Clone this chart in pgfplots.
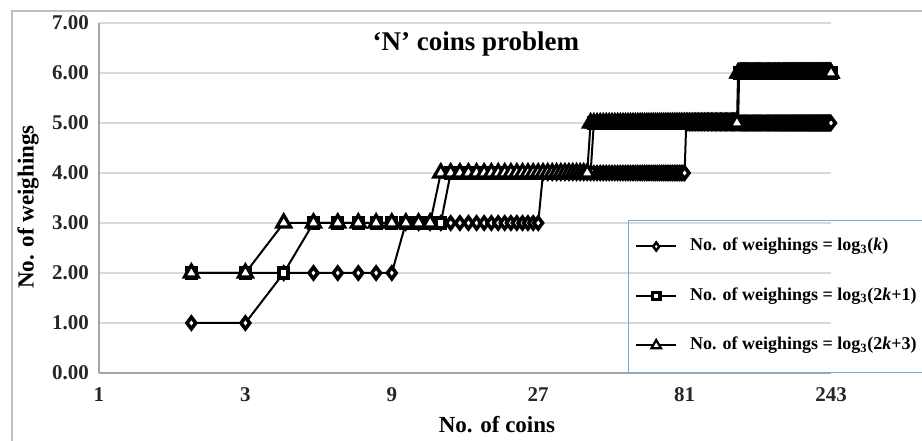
\documentclass[border=0pt]{standalone}
\usepackage{fontspec}
\setmainfont{Liberation Serif}
\usepackage{pgfplots}
\usepackage{pgfplotstable}
\pgfplotsset{compat=1.18}
\definecolor{gridc}{RGB}{217,217,217}
\definecolor{axc}{RGB}{166,166,166}
\definecolor{framec}{RGB}{191,191,191}
\definecolor{legc}{RGB}{120,170,220}

\pgfdeclareplotmark{tdiamond}{%
  \pgfsetlinewidth{0.62\pgfplotmarksize}%
  \pgfpathmoveto{\pgfqpoint{0pt}{\pgfplotmarksize}}%
  \pgfpathlineto{\pgfqpoint{0.75\pgfplotmarksize}{0pt}}%
  \pgfpathlineto{\pgfqpoint{0pt}{-\pgfplotmarksize}}%
  \pgfpathlineto{\pgfqpoint{-0.75\pgfplotmarksize}{0pt}}%
  \pgfpathclose\pgfusepathqfillstroke}
\pgfdeclareplotmark{tsquare}{%
  \pgfsetlinewidth{0.85\pgfplotmarksize}%
  \pgfpathrectangle{\pgfqpoint{-\pgfplotmarksize}{-\pgfplotmarksize}}{\pgfqpoint{2\pgfplotmarksize}{2\pgfplotmarksize}}%
  \pgfusepathqfillstroke}
\pgfdeclareplotmark{ttriangle}{%
  \pgfsetlinewidth{0.4\pgfplotmarksize}%
  \pgfpathmoveto{\pgfqpoint{0pt}{\pgfplotmarksize}}%
  \pgfpathlineto{\pgfqpoint{0.866\pgfplotmarksize}{-0.5\pgfplotmarksize}}%
  \pgfpathlineto{\pgfqpoint{-0.866\pgfplotmarksize}{-0.5\pgfplotmarksize}}%
  \pgfpathclose\pgfusepathqfillstroke}

\pgfplotstableread[row sep=\\]{
k d s t\\
2 1 2 2\\ 3 1 2 2\\ 4 2 2 3\\ 5 2 3 3\\ 6 2 3 3\\ 7 2 3 3\\ 8 2 3 3\\ 9 2 3 3\\
10 3 3 3\\ 11 3 3 3\\ 12 3 3 3\\ 13 3 3 4\\
14 3 4 4\\ 15 3 4 4\\ 16 3 4 4\\ 17 3 4 4\\ 18 3 4 4\\ 19 3 4 4\\ 20 3 4 4\\
21 3 4 4\\ 22 3 4 4\\ 23 3 4 4\\ 24 3 4 4\\ 25 3 4 4\\ 26 3 4 4\\ 27 3 4 4\\
28 4 4 4\\ 29 4 4 4\\ 30 4 4 4\\ 31 4 4 4\\ 32 4 4 4\\ 33 4 4 4\\ 34 4 4 4\\
35 4 4 4\\ 36 4 4 4\\ 37 4 4 4\\ 38 4 4 4\\ 39 4 4 4\\ 40 4 4 5\\
41 4 5 5\\ 42 4 5 5\\ 43 4 5 5\\ 44 4 5 5\\ 45 4 5 5\\ 46 4 5 5\\ 47 4 5 5\\ 48 4 5 5\\ 49 4 5 5\\ 50 4 5 5\\
51 4 5 5\\ 52 4 5 5\\ 53 4 5 5\\ 54 4 5 5\\ 55 4 5 5\\ 56 4 5 5\\ 57 4 5 5\\ 58 4 5 5\\ 59 4 5 5\\ 60 4 5 5\\
61 4 5 5\\ 62 4 5 5\\ 63 4 5 5\\ 64 4 5 5\\ 65 4 5 5\\ 66 4 5 5\\ 67 4 5 5\\ 68 4 5 5\\ 69 4 5 5\\ 70 4 5 5\\
71 4 5 5\\ 72 4 5 5\\ 73 4 5 5\\ 74 4 5 5\\ 75 4 5 5\\ 76 4 5 5\\ 77 4 5 5\\ 78 4 5 5\\ 79 4 5 5\\ 80 4 5 5\\
81 4 5 5\\
82 5 5 5\\ 83 5 5 5\\ 84 5 5 5\\ 85 5 5 5\\ 86 5 5 5\\ 87 5 5 5\\ 88 5 5 5\\ 89 5 5 5\\ 90 5 5 5\\
91 5 5 5\\ 92 5 5 5\\ 93 5 5 5\\ 94 5 5 5\\ 95 5 5 5\\ 96 5 5 5\\ 97 5 5 5\\ 98 5 5 5\\ 99 5 5 5\\ 100 5 5 5\\
101 5 5 5\\ 102 5 5 5\\ 103 5 5 5\\ 104 5 5 5\\ 105 5 5 5\\ 106 5 5 5\\ 107 5 5 5\\ 108 5 5 5\\ 109 5 5 5\\ 110 5 5 5\\
111 5 5 5\\ 112 5 5 5\\ 113 5 5 5\\ 114 5 5 5\\ 115 5 5 5\\ 116 5 5 5\\ 117 5 5 5\\ 118 5 5 5\\ 119 5 5 5\\ 120 5 5 5\\
121 5 5 6\\
122 5 6 6\\ 123 5 6 6\\ 124 5 6 6\\ 125 5 6 6\\ 126 5 6 6\\ 127 5 6 6\\ 128 5 6 6\\ 129 5 6 6\\ 130 5 6 6\\
131 5 6 6\\ 132 5 6 6\\ 133 5 6 6\\ 134 5 6 6\\ 135 5 6 6\\ 136 5 6 6\\ 137 5 6 6\\ 138 5 6 6\\ 139 5 6 6\\ 140 5 6 6\\
141 5 6 6\\ 142 5 6 6\\ 143 5 6 6\\ 144 5 6 6\\ 145 5 6 6\\ 146 5 6 6\\ 147 5 6 6\\ 148 5 6 6\\ 149 5 6 6\\ 150 5 6 6\\
151 5 6 6\\ 152 5 6 6\\ 153 5 6 6\\ 154 5 6 6\\ 155 5 6 6\\ 156 5 6 6\\ 157 5 6 6\\ 158 5 6 6\\ 159 5 6 6\\ 160 5 6 6\\
161 5 6 6\\ 162 5 6 6\\ 163 5 6 6\\ 164 5 6 6\\ 165 5 6 6\\ 166 5 6 6\\ 167 5 6 6\\ 168 5 6 6\\ 169 5 6 6\\ 170 5 6 6\\
171 5 6 6\\ 172 5 6 6\\ 173 5 6 6\\ 174 5 6 6\\ 175 5 6 6\\ 176 5 6 6\\ 177 5 6 6\\ 178 5 6 6\\ 179 5 6 6\\ 180 5 6 6\\
181 5 6 6\\ 182 5 6 6\\ 183 5 6 6\\ 184 5 6 6\\ 185 5 6 6\\ 186 5 6 6\\ 187 5 6 6\\ 188 5 6 6\\ 189 5 6 6\\ 190 5 6 6\\
191 5 6 6\\ 192 5 6 6\\ 193 5 6 6\\ 194 5 6 6\\ 195 5 6 6\\ 196 5 6 6\\ 197 5 6 6\\ 198 5 6 6\\ 199 5 6 6\\ 200 5 6 6\\
201 5 6 6\\ 202 5 6 6\\ 203 5 6 6\\ 204 5 6 6\\ 205 5 6 6\\ 206 5 6 6\\ 207 5 6 6\\ 208 5 6 6\\ 209 5 6 6\\ 210 5 6 6\\
211 5 6 6\\ 212 5 6 6\\ 213 5 6 6\\ 214 5 6 6\\ 215 5 6 6\\ 216 5 6 6\\ 217 5 6 6\\ 218 5 6 6\\ 219 5 6 6\\ 220 5 6 6\\
221 5 6 6\\ 222 5 6 6\\ 223 5 6 6\\ 224 5 6 6\\ 225 5 6 6\\ 226 5 6 6\\ 227 5 6 6\\ 228 5 6 6\\ 229 5 6 6\\ 230 5 6 6\\
231 5 6 6\\ 232 5 6 6\\ 233 5 6 6\\ 234 5 6 6\\ 235 5 6 6\\ 236 5 6 6\\ 237 5 6 6\\ 238 5 6 6\\ 239 5 6 6\\ 240 5 6 6\\
241 5 6 6\\ 242 5 6 6\\ 243 5 6 6\\
}\coins

\begin{document}
\begin{tikzpicture}
\begin{axis}[
  at={(0pt,0pt)}, anchor=south west,
  scale only axis, width=732pt, height=350pt,
  xmode=log, log basis x=3,
  xmin=1, xmax=243, ymin=0, ymax=7,
  clip=false,
  xtick={1,3,9,27,81,243}, xticklabels={1,3,9,27,81,243},
  ytick={0,1,2,3,4,5,6,7},
  /pgf/number format/assume math mode=true,
  yticklabel style={/pgf/number format/fixed, /pgf/number format/fixed zerofill, /pgf/number format/precision=2, anchor=east, inner sep=0pt, xshift=-10pt},
  xticklabel style={anchor=north, inner sep=0pt, yshift=-14pt},
  tick label style={font=\fontsize{21}{24}\selectfont\bfseries, text=black!85},
  major tick length=0pt,
  ymajorgrids, grid style={gridc, line width=1.5pt},
  axis x line*=bottom, axis y line*=left,
  axis line style={axc, line width=1.5pt, -},
  title={‘N’ coins problem},
  title style={font=\fontsize{27}{30}\selectfont\bfseries, at={(axis description cs:0.515,0.903)}, anchor=base},
  xlabel={No. of coins},
  xlabel style={font=\fontsize{23}{26}\selectfont\bfseries, at={(axis description cs:0.5437,-0.1714)}, anchor=base},
  ylabel={No. of weighings},
  ylabel style={font=\fontsize{23}{26}\selectfont\bfseries, at={(axis description cs:-0.097,0.474)}, anchor=center},
  legend style={at={(axis description cs:0.7227,0.437)}, anchor=north west, draw=legc, fill=none,
    inner xsep=7pt, inner ysep=18pt, row sep=33pt,
    font=\fontsize{18}{20}\selectfont\bfseries,
    nodes={inner sep=0pt, text depth=4pt, text height=12.5pt},
    /tikz/every odd column/.append style={column sep=13pt}},
  legend cell align=left,
  legend image code/.code={\draw[mark repeat=2,mark phase=2,#1] plot coordinates {(0pt,0pt)(20pt,0pt)(40pt,0pt)};},
]
\addplot[black, line width=2pt, mark=tdiamond, mark size=5.8pt, mark options={solid, fill=white}, legend image post style={mark size=4pt}] table[x=k,y=d]{\coins};
\addlegendentry{\makebox[240pt][l]{No. of weighings = log\textsubscript{3}(\textit{k})}}
\addplot[black, line width=2pt, mark=tsquare, mark size=4.6pt, mark options={solid, fill=white}, legend image post style={mark size=3.8pt}] table[x=k,y=s]{\coins};
\addlegendentry{\makebox[240pt][l]{No. of weighings = log\textsubscript{3}(2\textit{k}+1)}}
\addplot[black, line width=2pt, mark=ttriangle, mark size=8pt, mark options={solid, fill=white}, legend image post style={mark size=5.5pt}] table[x=k,y=t]{\coins};
\addlegendentry{\makebox[240pt][l]{No. of weighings = log\textsubscript{3}(2\textit{k}+3)}}
\end{axis}
\draw[framec, line width=1.5pt] (-87pt,-90pt) -- (-87pt,362pt) -- (840pt,362pt);
\pgfresetboundingbox
\useasboundingbox (-99pt,-68pt) rectangle (823pt,373pt);
\end{tikzpicture}
\end{document}
